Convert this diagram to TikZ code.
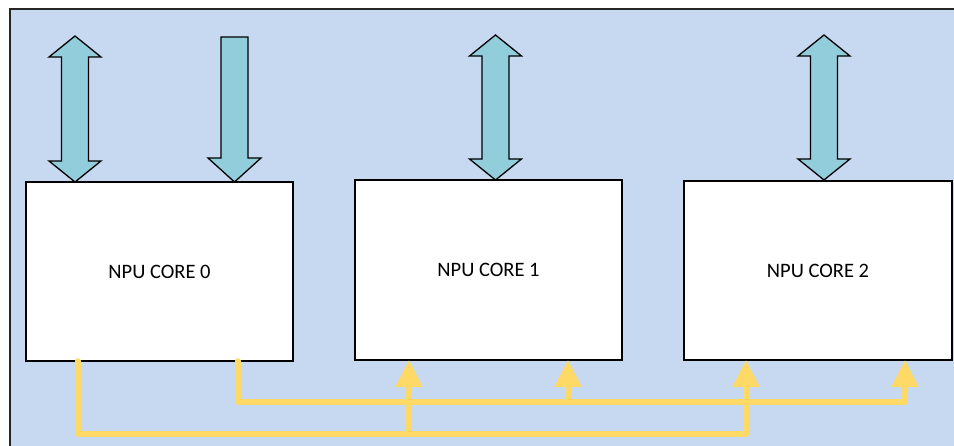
\documentclass[tikz,border=0pt]{standalone}
\usepackage{fontspec}
\setmainfont{Carlito}
\usetikzlibrary{arrows.meta}
\definecolor{bgblue}{HTML}{C6D9F0}
\definecolor{aqua}{HTML}{92CDDC}
\definecolor{busyellow}{HTML}{FFD966}
\newcommand{\dblArrowShape}[3]{% center x, top tip y, bottom tip y
  \draw[arrowshape] (#1,#2) -- (#1+26,#2+21) -- (#1+13.5,#2+21) -- (#1+13.5,#3-21)
    -- (#1+26,#3-21) -- (#1,#3) -- (#1-26,#3-21) -- (#1-13.5,#3-21)
    -- (#1-13.5,#2+21) -- (#1-26,#2+21) -- cycle;}
\begin{document}
\begin{tikzpicture}[x=1pt,y=-1pt,
  arrowshape/.style={fill=aqua,draw=black,line width=1.3pt,line join=miter},
  core/.style={draw=black,fill=white,line width=1.3pt,inner sep=0pt,
    font=\fontsize{20.5}{24}\selectfont},
  bus/.style={draw=busyellow,line width=5.5pt,line cap=round,line join=round},
  busarrow/.style={bus,-{Triangle[width=26pt,length=27pt]}}]
\useasboundingbox (0,0) rectangle (954,446);
\begin{scope}
\clip (0,0) rectangle (954,446);
\draw[fill=bgblue,draw=black!85,line width=2pt] (10,9) rectangle (970,460);
\end{scope}
% cores
\node[core,minimum width=267pt,minimum height=179pt] (c0) at (159.5,271.5) {NPU CORE 0};
\node[core,minimum width=267pt,minimum height=180pt] (c1) at (488.5,270) {NPU CORE 1};
\node[core,minimum width=268pt,minimum height=179pt] (c2) at (818,270.5) {NPU CORE 2};
% top arrows
\dblArrowShape{75}{36}{182}
\draw[arrowshape] (221,37) -- (248,37) -- (248,158) -- (261,158) -- (234.5,182)
  -- (208,158) -- (221,158) -- cycle;
\dblArrowShape{495.5}{35}{180}
\dblArrowShape{824}{35}{180}
% buses
\coordinate (a0) at (78,361);
\coordinate (b0) at (238,361);
\coordinate (a1) at (409,360);
\coordinate (b1) at (568,360);
\coordinate (a2) at (746,360);
\coordinate (b2) at (905,360);
\draw[busarrow] (a0) -- (78,434) -- (746,434) -- (a2);
\draw[busarrow] (409,434) -- (a1);
\draw[busarrow] (b0) -- (238,402) -- (905,402) -- (b2);
\draw[busarrow] (568,402) -- (b1);
\end{tikzpicture}
\end{document}
